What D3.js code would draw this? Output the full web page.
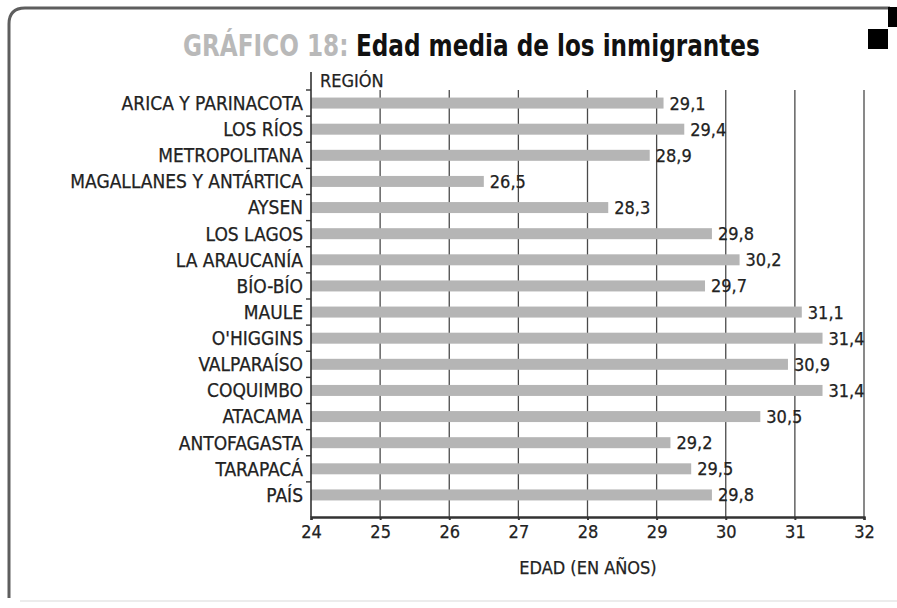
<!DOCTYPE html>
<html lang="es">
<head>
<meta charset="utf-8">
<script src="https://cdn.jsdelivr.net/npm/d3@7"></script>
<style>
  html, body { margin: 0; padding: 0; background: #ffffff; }
  svg { display: block; }
  .lbl { font-family: "Liberation Sans Narrow", "DejaVu Sans Condensed", "Roboto", sans-serif; fill: #222; stroke: #222; stroke-width: 0.25; }
  .ttl { font-family: "Liberation Sans Narrow", "DejaVu Sans Condensed", "Roboto", sans-serif; font-weight: bold; }
</style>
</head>
<body>
<script>
// Regions (top to bottom) and mean age of immigrants in each
const regions = [
  "ARICA Y PARINACOTA", "LOS RÍOS", "METROPOLITANA", "MAGALLANES Y ANTÁRTICA",
  "AYSEN", "LOS LAGOS", "LA ARAUCANÍA", "BÍO-BÍO", "MAULE", "O'HIGGINS",
  "VALPARAÍSO", "COQUIMBO", "ATACAMA", "ANTOFAGASTA", "TARAPACÁ", "PAÍS"
];
const edadMedia = [
  29.1, 29.4, 28.9, 26.5, 28.3, 29.8, 30.2, 29.7, 31.1, 31.4,
  30.9, 31.4, 30.5, 29.2, 29.5, 29.8
];
const xTicks = [24, 25, 26, 27, 28, 29, 30, 31, 32];
const titlePrefix = "GRÁFICO 18:";
const titleText = "Edad media de los inmigrantes";
const yAxisTitle = "REGIÓN";
const xAxisTitle = "EDAD (EN AÑOS)";

const W = 897, H = 608;
const plot = { left: 311, right: 864, top: 90, bottom: 508, axisY: 517 };

const svg = d3.select("body").append("svg").attr("width", W).attr("height", H);

// Frame: rounded left/top border, faint bottom edge, black corner squares
svg.append("path")
  .attr("d", `M9,598 L9,24 Q9,8 25,8 L890,8`)
  .attr("fill", "none").attr("stroke", "#5e5e5e").attr("stroke-width", 3);
svg.append("line").attr("x1", 20).attr("x2", 897).attr("y1", 601).attr("y2", 601)
  .attr("stroke", "#ececec").attr("stroke-width", 2);
svg.append("rect").attr("x", 888).attr("y", 7).attr("width", 9).attr("height", 20).attr("fill", "#000");
svg.append("rect").attr("x", 868).attr("y", 29).attr("width", 20).attr("height", 20).attr("fill", "#000");

// Title: gray prefix followed by black heading, both condensed to a common width
const tg = svg.append("g").attr("transform", "translate(183,56)");
const t1 = tg.append("text").attr("class", "ttl").attr("font-size", 31).attr("fill", "#b9b9b9").text(titlePrefix);
const t2 = tg.append("text").attr("class", "ttl").attr("font-size", 31).attr("fill", "#111").text(titleText);
const w1 = t1.node().getComputedTextLength();
const gap = 9;
const w2 = t2.node().getComputedTextLength();
const s = 577 / (w1 + gap + w2);
t1.attr("transform", `scale(${s},1)`);
t2.attr("transform", `scale(${s},1)`).attr("x", w1 + gap);

// Scales
const x = d3.scaleLinear().domain([24, 32]).range([plot.left, plot.right]);
const y = d3.scaleBand().domain(regions).range([plot.top, plot.bottom]).paddingInner(0.6).paddingOuter(0.3);

// Vertical gridlines
svg.append("g").selectAll("line")
  .data(xTicks.slice(1))
  .join("line")
  .attr("x1", d => x(d)).attr("x2", d => x(d))
  .attr("y1", plot.top).attr("y2", plot.axisY)
  .attr("stroke", "#4a4a4a").attr("stroke-width", 1.3);

// Bars
svg.append("g").selectAll("rect")
  .data(regions)
  .join("rect")
  .attr("x", x(24))
  .attr("y", d => y(d) + y.bandwidth() / 2 - 5.5)
  .attr("width", (d, i) => x(edadMedia[i]) - x(24))
  .attr("height", 11)
  .attr("fill", "#b5b5b5");

// Value labels
svg.append("g").selectAll("text")
  .data(regions)
  .join("text")
  .attr("class", "lbl")
  .attr("x", (d, i) => x(edadMedia[i]) + 6)
  .attr("y", d => y(d) + y.bandwidth() / 2)
  .attr("dy", "0.36em")
  .attr("font-size", 18)
  .text((d, i) => d3.format(".1f")(edadMedia[i]).replace(".", ","));

// Category axis: vertical line with ticks at band boundaries
const yAxisG = svg.append("g");
yAxisG.append("line")
  .attr("x1", plot.left).attr("x2", plot.left)
  .attr("y1", 72).attr("y2", plot.axisY)
  .attr("stroke", "#333").attr("stroke-width", 1.6);
const step = y.step();
yAxisG.selectAll("line.tick")
  .data(regions)
  .join("line")
  .attr("class", "tick")
  .attr("x1", plot.left - 5).attr("x2", plot.left)
  .attr("y1", d => y(d) + y.bandwidth() / 2 - step / 2)
  .attr("y2", d => y(d) + y.bandwidth() / 2 - step / 2)
  .attr("stroke", "#333").attr("stroke-width", 1.4);
yAxisG.selectAll("text")
  .data(regions)
  .join("text")
  .attr("class", "lbl")
  .attr("x", plot.left - 8)
  .attr("y", d => y(d) + y.bandwidth() / 2)
  .attr("dy", "0.36em")
  .attr("text-anchor", "end")
  .attr("font-size", 19)
  .text(d => d);

svg.append("text").attr("class", "lbl")
  .attr("x", 320).attr("y", 87)
  .attr("font-size", 18)
  .text(yAxisTitle);

// Value axis at the bottom
const xAxis = d3.axisBottom(x).tickValues(xTicks).tickSize(3).tickPadding(5).tickFormat(d3.format("d"));
const xg = svg.append("g").attr("transform", `translate(0,${plot.axisY})`).call(xAxis);
xg.select(".domain").attr("stroke", "#333").attr("stroke-width", 2.4);
xg.selectAll(".tick line").attr("stroke", "#333").attr("stroke-width", 2);
xg.selectAll(".tick text").attr("class", "lbl").attr("font-size", 18).attr("fill", "#222");

svg.append("text").attr("class", "lbl")
  .attr("x", 588).attr("y", 574)
  .attr("text-anchor", "middle")
  .attr("font-size", 18)
  .text(xAxisTitle);
</script>
</body>
</html>
